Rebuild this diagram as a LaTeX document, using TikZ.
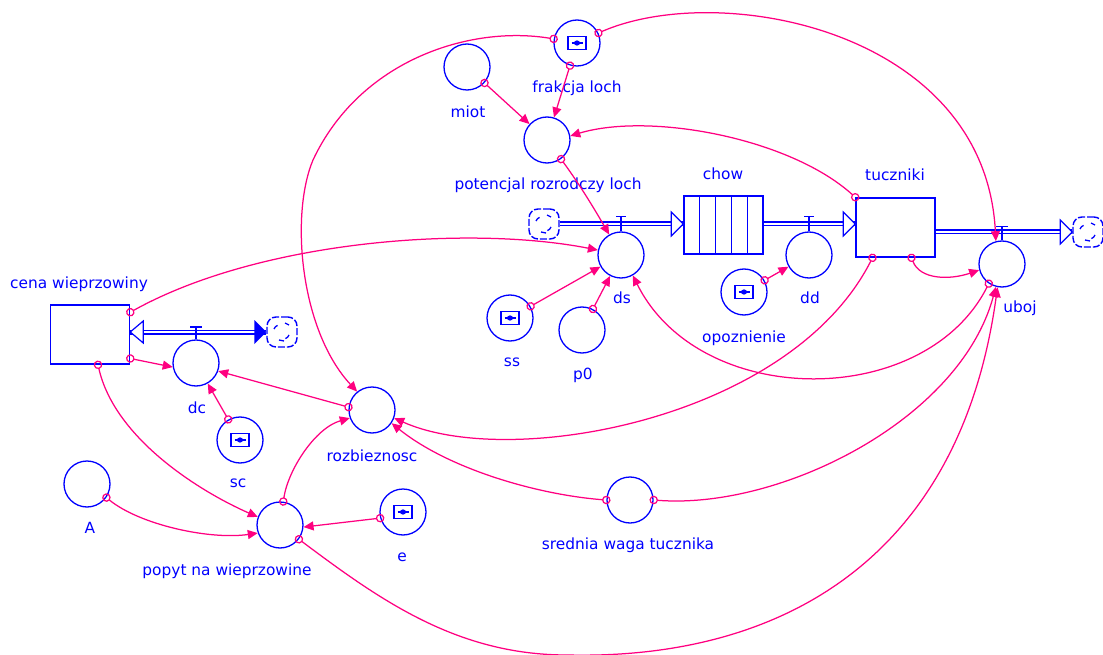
\documentclass[tikz,border=0pt]{standalone}
\usepackage{fontspec}
\setmainfont{DejaVu Sans}
\usetikzlibrary{arrows.meta,calc}
\definecolor{sdblue}{RGB}{0,0,255}
\definecolor{lnk}{RGB}{255,0,128}
\begin{document}
\begin{tikzpicture}[x=1pt,y=-1pt,
  aux/.style={circle, draw=sdblue, line width=1.3pt, minimum size=46pt, inner sep=0pt},
  ghostaux/.style={aux, path picture={
     \draw[sdblue,line width=1.6pt] ($(path picture bounding box.center)+(-9,-6.5)$) rectangle ++(18,13);
     \draw[sdblue,line width=1.4pt] ($(path picture bounding box.center)+(-5.5,0)$) -- ++(11,0);
     \fill[sdblue] (path picture bounding box.center) ellipse [x radius=3, y radius=2.6];}},
  stock/.style={rectangle, draw=sdblue, line width=1.5pt, inner sep=0pt, minimum width=79pt, minimum height=59pt},
  lbl/.style={text=sdblue, font=\fontsize{15.4}{18}\selectfont, inner sep=0pt},
  link/.style={draw=lnk, line width=1.25pt, {Circle[open,length=8.5pt,width=8.5pt]}-{Triangle[length=10pt,width=9pt]}, shorten <=-4.2pt},
  pipe/.style={draw=sdblue, line width=1.2pt, double=white, double distance=2.6pt},
  pipetip/.style={draw=sdblue, line width=1.2pt, fill=white},
  valve/.style={draw=sdblue, line width=1.4pt},
  sdcloud/.style={draw=sdblue, line width=1.4pt, minimum size=30pt, rounded corners=9pt, inner sep=0pt,
     dash pattern=on 7pt off 2pt, path picture={
     \draw[sdblue,line width=1.3pt,solid] ($(path picture bounding box.center)+(-8,-3)$) arc [start angle=200, end angle=250, radius=6];
     \draw[sdblue,line width=1.3pt,solid] ($(path picture bounding box.center)+(7,3)$) arc [start angle=20, end angle=70, radius=6];
     \draw[sdblue,line width=1.3pt,solid] ($(path picture bounding box.center)+(-3,8)$) -- ++(5,1);
     \draw[sdblue,line width=1.3pt,solid] ($(path picture bounding box.center)+(3,-9)$) -- ++(4,2);}}
]
\useasboundingbox (0,0) rectangle (1103,655);

% stocks and conveyor
\node[stock] (cena) at (90,334.5) {};
\node[stock] (tuc) at (895.5,227.5) {};
\node[stock, minimum height=58pt] (chow) at (723.5,225) {};
\foreach \i in {1,...,4}
  \draw[sdblue, line width=1.3pt] ($(chow.north west)!\i/5!(chow.north east)$) -- ($(chow.south west)!\i/5!(chow.south east)$);

% clouds
\node[sdcloud] (c1) at (544,224) {};
\node[sdcloud] (c2) at (282,332) {};
\node[sdcloud] (c3) at (1088,232) {};

% auxiliaries / rates
\node[aux] (miot) at (467,67) {};
\node[ghostaux] (frak) at (577,43) {};
\node[aux] (pot) at (547,140) {};
\node[aux] (ds) at (621,255) {};
\node[aux] (dd) at (809,255) {};
\node[ghostaux] (opoz) at (744,292) {};
\node[aux] (uboj) at (1002,264) {};
\node[ghostaux] (ss) at (510,318) {};
\node[aux] (p0) at (582,330) {};
\node[aux] (dc) at (196,363) {};
\node[ghostaux] (sc) at (240,440) {};
\node[aux] (roz) at (372,410) {};
\node[aux] (A) at (87,484) {};
\node[aux] (popyt) at (280,525) {};
\node[ghostaux] (e) at (403,512) {};
\node[aux] (sred) at (630,500) {};

% labels
\node[lbl] (Lcena) at (79,284) {cena wieprzowiny};
\node[lbl] (Ldc) at (197,408) {dc};
\node[lbl] (Lsc) at (238,483) {sc};
\node[lbl] (Lroz) at (372,456) {rozbieznosc};
\node[lbl] (LA) at (90,528) {A};
\node[lbl] (Lpopyt) at (227,571) {popyt na wieprzowine};
\node[lbl] (Le) at (402,557) {e};
\node[lbl] (Lsred) at (628,545) {srednia waga tucznika};
\node[lbl] (Lss) at (512,362) {ss};
\node[lbl] (Lp0) at (583,375) {p0};
\node[lbl] (Lds) at (622,298) {ds};
\node[lbl] (Ldd) at (810,298) {dd};
\node[lbl] (Lopoz) at (744,338) {opoznienie};
\node[lbl] (Lchow) at (723,174) {chow};
\node[lbl] (Ltuc) at (895,175) {tuczniki};
\node[lbl] (Luboj) at (1020,308) {uboj};
\node[lbl] (Lpot) at (548,185) {potencjal rozrodczy loch};
\node[lbl] (Lmiot) at (468,112) {miot};
\node[lbl] (Lfrak) at (577,88) {frakcja loch};

% pipes
\draw[pipe] (c1.east) -- (c1 -| chow.west);
\draw[pipetip] (c1 -| chow.west) -- ++(-12,-12) -- ++(0,24) -- cycle;
\draw[pipe] (c1 -| chow.east) -- (c1 -| tuc.west);
\draw[pipetip] (c1 -| tuc.west) -- ++(-12,-12) -- ++(0,24) -- cycle;
\draw[pipe] (c3 -| tuc.east) -- (c3.west);
\draw[pipetip] (c3.west) -- ++(-12,-12) -- ++(0,24) -- cycle;
\draw[pipe] (c2.west) -- (c2 -| cena.east);
\draw[pipetip] (c2 -| cena.east) -- ++(13,-11) -- ++(0,22) -- cycle;
\fill[sdblue] (c2.west) -- ++(-12,-12) -- ++(0,24) -- cycle;

% valves
\draw[valve] (ds.north) -- ++(0,-15) ++(-5,0) -- ++(10,0);
\draw[valve] (dd.north) -- ++(0,-15) ++(-5,0) -- ++(10,0);
\draw[valve] (uboj.north) -- ++(0,-14) ++(-6,0) -- ++(12,0);
\draw[valve] (dc.north) -- ++(0,-12.5) ++(-6,0) -- ++(12,0);

% connectors
\draw[link] (miot) -- (pot);
\draw[link] (frak) -- (pot);
\draw[link] (tuc.north west) .. controls (790,138) and (650,112) .. (pot.10);
\draw[link] (pot) .. controls (580,185) and (595,210) .. (ds);
\draw[link] ([yshift=-8pt]cena.north east) .. controls (260,240) and (470,225) .. (ds.168);
\draw[link] (ss) -- (ds);
\draw[link] (p0) -- (ds);
\draw[link] (uboj.236) .. controls (925,410) and (700,410) .. (ds.300);
\draw[link] (opoz) -- (dd);
\draw[link] (frak.170) .. controls (470,25) and (360,60) .. (313,160) .. controls (290,215) and (300,330) .. (roz.129);
\draw[link] (frak.25) .. controls (720,-20) and (985,30) .. (uboj.105);
\draw[link] ([xshift=16pt]tuc.south) .. controls (920,280) and (950,280) .. (uboj.195);
\draw[link] ([xshift=-23pt]tuc.south) .. controls (790,420) and (510,470) .. (roz.340);
\draw[link] (sred.east) .. controls (780,510) and (960,420) .. (uboj.255);
\draw[link] (popyt.323) .. controls (380,600) and (457,655) .. (567,655) .. controls (780,660) and (960,560) .. (uboj.259);
\draw[link] ([yshift=-24pt]cena.east) -- (dc.190);
\draw[link] (roz.173) -- (dc.340);
\draw[link] (sc) -- (dc);
\draw[link] ([xshift=8pt]cena.south) .. controls (115,440) and (203,493) .. (popyt.160);
\draw[link] (A.325) .. controls (140,525) and (210,540) .. (popyt.200);
\draw[link] (popyt.82) .. controls (288,470) and (315,428) .. (roz.200);
\draw[link] (e.195) -- (popyt.355);
\draw[link] (sred.west) .. controls (540,495) and (450,470) .. (roz.326);
\end{tikzpicture}
\end{document}
